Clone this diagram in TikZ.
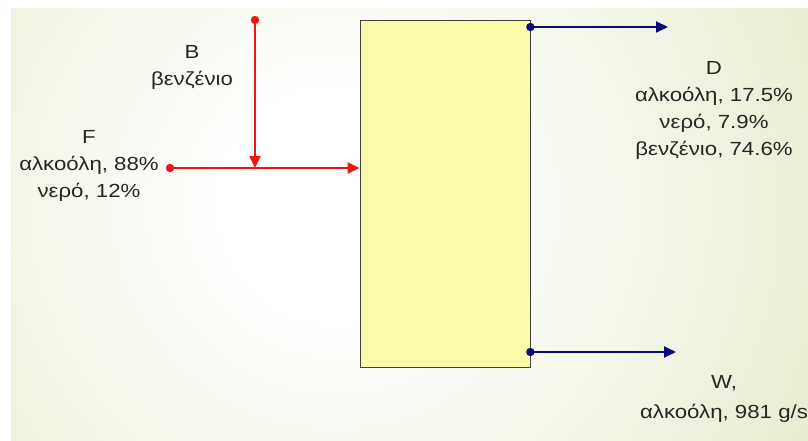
\documentclass[tikz,border=0pt]{standalone}
\usepackage{fontspec}
\setmainfont{Liberation Sans}[FakeStretch=1.17]
\usetikzlibrary{arrows.meta,positioning}

\definecolor{bgedge}{RGB}{216,225,178}
\definecolor{colfill}{RGB}{250,250,168}
\definecolor{flowred}{RGB}{240,20,20}
\definecolor{flowblue}{RGB}{10,10,125}
\pgfdeclareradialshading{glow}{\pgfpoint{0bp}{0bp}}{color(0bp)=(white); color(5bp)=(white); color(36bp)=(bgedge); color(50bp)=(bgedge)}

\tikzset{
    column/.style={draw=black!75, line width=0.8pt, fill=colfill, minimum width=170pt, minimum height=347pt, inner sep=0pt},
    redflow/.style={draw=flowred, line width=2pt, -{Triangle[length=12pt,width=11pt]}},
    blueflow/.style={draw=flowblue, line width=2pt, -{Triangle[length=12pt,width=11pt]}},
    reddot/.style={fill=flowred},
    bluedot/.style={fill=flowblue},
    stream/.style={align=center, font=\fontsize{19}{27}\selectfont, text=black!85, inner sep=0pt}
}

\begin{document}
\begin{tikzpicture}[x=1pt,y=-1pt]
    \useasboundingbox (0,0) rectangle (808,441);
    \fill[white] (0,0) rectangle (808,441);
    \begin{scope}
        \clip (11,9) rectangle (808,441);
        \shade[shading=glow] (335,205) circle (560);
    \end{scope}

    % column
    \node[column] (col) at (445,193.5) {};

    % feeds
    \coordinate (fin) at (170,168);
    \coordinate (bin) at (255,20);
    \draw[redflow] (fin) -- (fin -| col.west);
    \draw[redflow] (bin) -- (bin |- fin);
    \fill[reddot] (fin) circle (4.2);
    \fill[reddot] (bin) circle (4.2);

    % products
    \coordinate (dout) at (668,27);
    \coordinate (wout) at (676,352);
    \draw[blueflow] (dout -| col.east) -- (dout);
    \draw[blueflow] (wout -| col.east) -- (wout);
    \fill[bluedot] (dout -| col.east) circle (4.2);
    \fill[bluedot] (wout -| col.east) circle (4.2);

    % labels
    \node[stream] (flabel) at (89,166) {F\\αλκοόλη, 88\%\\νερό, 12\%};
    \node[stream] (blabel) at (192,67) {B\\βενζένιο};
    \node[stream] (dlabel) at (714,110) {D\\αλκοόλη, 17.5\%\\νερό, 7.9\%\\βενζένιο, 74.6\%};
    \node[stream, font=\fontsize{19}{30}\selectfont] (wlabel) at (724,399) {W,\\αλκοόλη, 981 g/s};
\end{tikzpicture}
\end{document}
